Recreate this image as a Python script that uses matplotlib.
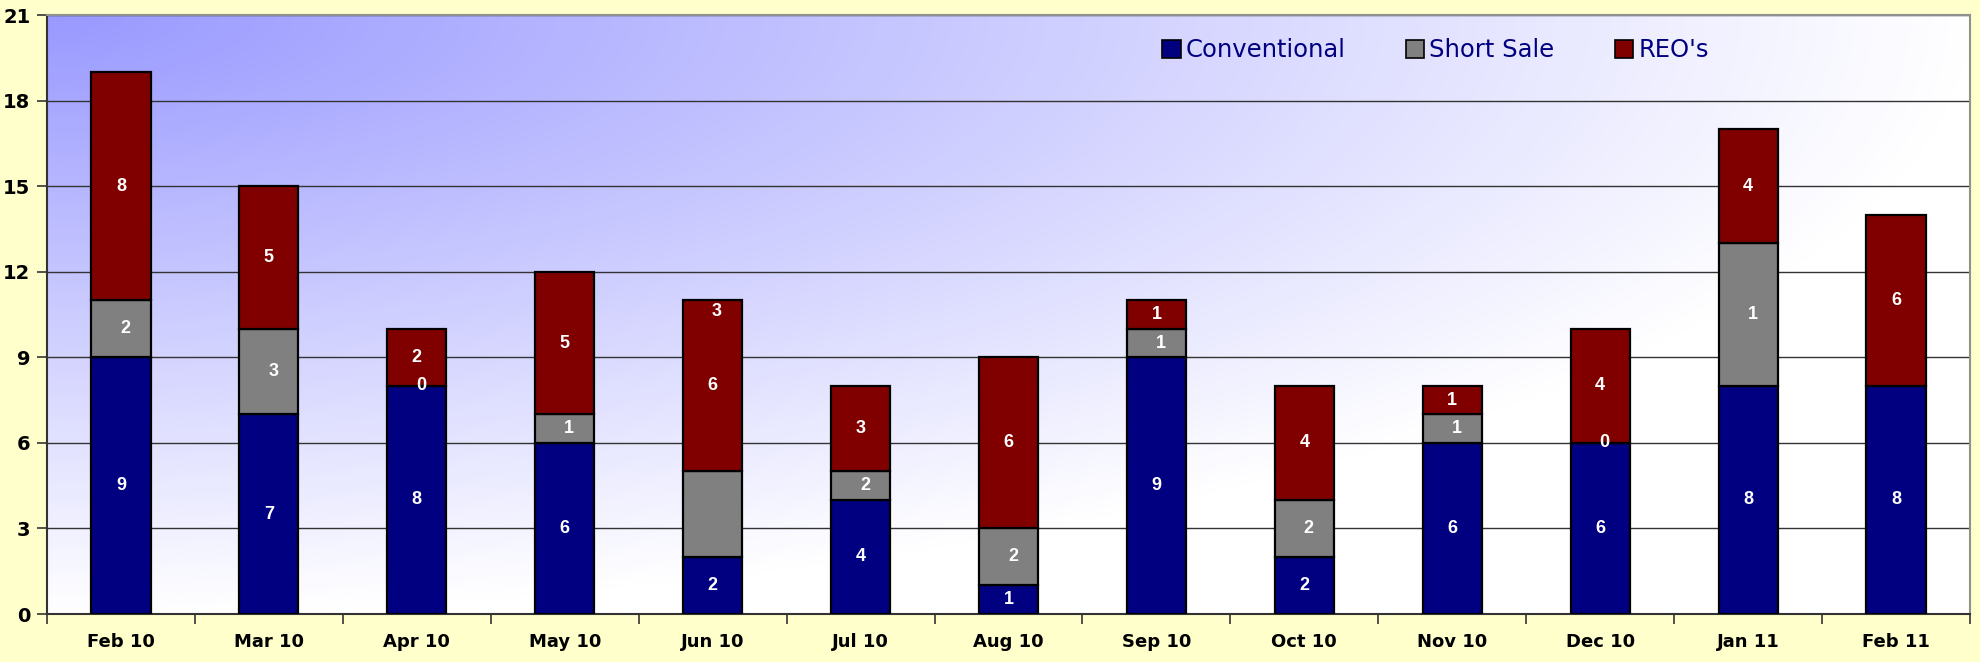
import numpy as np
import matplotlib.pyplot as plt
from matplotlib.patches import Patch

# -------------------------------------------------------------------------
# Data
# -------------------------------------------------------------------------
months = ["Feb 10", "Mar 10", "Apr 10", "May 10", "Jun 10", "Jul 10", "Aug 10",
          "Sep 10", "Oct 10", "Nov 10", "Dec 10", "Jan 11", "Feb 11"]

conventional = [9, 7, 8, 6, 2, 4, 1, 9, 2, 6, 6, 8, 8]
short_sale = [2, 3, 0, 1, 3, 1, 2, 1, 2, 1, 0, 5, 0]
reos = [8, 5, 2, 5, 6, 3, 6, 1, 4, 1, 4, 4, 6]

# the data labels printed on the bars (they do not always match the heights)
conventional_labels = ["9", "7", "8", "6", "2", "4", "1", "9", "2", "6", "6", "8", "8"]
short_sale_labels = ["2", "3", "0", "1", "3", "2", "2", "1", "2", "1", "0", "1", ""]
reos_labels = ["8", "5", "2", "5", "6", "3", "6", "1", "4", "1", "4", "4", "6"]

# one label sits away from its segment (Jun 10 short sale)
label_y_override = {("short", 4): 10.6}

NAVY = "#000080"
GREY = "#808080"
MAROON = "#800000"

fig = plt.figure(figsize=(19.8, 6.62), dpi=100)
fig.patch.set_facecolor("#FFFFCC")
ax = fig.add_axes([47 / 1980, 1 - 614 / 662, (1970 - 47) / 1980, (614 - 15) / 662])

# corner gradient background: blue-violet top-left -> white away from it
nx, ny = 400, 200
xx, yy = np.meshgrid(np.linspace(0, 1, nx), np.linspace(0, 1, ny))
t = np.clip(np.sqrt(xx ** 2 + yy ** 2), 0, 1)
c0 = np.array([0.60, 0.60, 1.0])
c1 = np.array([1.0, 1.0, 1.0])
grad = c0[None, None, :] * (1 - t[..., None]) + c1[None, None, :] * t[..., None]
ax.imshow(grad, extent=[0, 1, 0, 1], transform=ax.transAxes, aspect="auto",
          zorder=0, interpolation="bilinear")

x = np.arange(len(months))
width = 0.40
conv = np.array(conventional, dtype=float)
short = np.array(short_sale, dtype=float)
reo = np.array(reos, dtype=float)

ax.bar(x, conv, width, color=NAVY, edgecolor="black", linewidth=1.6, zorder=3)
ax.bar(x, short, width, bottom=conv, color=GREY, edgecolor="black", linewidth=1.6, zorder=3)
ax.bar(x, reo, width, bottom=conv + short, color=MAROON, edgecolor="black", linewidth=1.6, zorder=3)

label_kw = dict(color="white", fontsize=13, fontweight="bold", ha="center", va="center",
                family="Liberation Sans", zorder=5)
for i in x:
    ax.text(i, conv[i] / 2, conventional_labels[i], **label_kw)
    if short_sale_labels[i]:
        y = label_y_override.get(("short", i), conv[i] + short[i] / 2)
        ax.text(i + 0.03, y, short_sale_labels[i], **label_kw)
    ax.text(i, conv[i] + short[i] + reo[i] / 2, reos_labels[i], **label_kw)

ax.set_xlim(-0.5, len(months) - 0.5)
ax.set_ylim(0, 21)
ax.set_yticks(np.arange(0, 22, 3))
ax.yaxis.grid(True, color="#333333", linewidth=1.0, zorder=1)
ax.set_axisbelow(True)

ax.set_xticks(x)
ax.set_xticklabels(months)
ax.set_xticks(np.arange(-0.5, len(months), 1), minor=True)
ax.tick_params(axis="x", which="major", length=0, pad=14, labelsize=13)
ax.tick_params(axis="x", which="minor", length=7, width=1.2, color="#333333", direction="out")
ax.tick_params(axis="y", length=7, width=1.2, color="#333333", labelsize=14, pad=5)
for lbl in ax.get_yticklabels():
    lbl.set_fontweight("bold")
for lbl in ax.get_xticklabels():
    lbl.set_fontweight("bold")

for side in ["left", "bottom"]:
    ax.spines[side].set_color("#333333")
    ax.spines[side].set_linewidth(1.5)
for side in ["top", "right"]:
    ax.spines[side].set_color("#909090")
    ax.spines[side].set_linewidth(1.5)

handles = [Patch(facecolor=NAVY, edgecolor="black", linewidth=1.2, label="Conventional"),
           Patch(facecolor=GREY, edgecolor="black", linewidth=1.2, label="Short Sale"),
           Patch(facecolor=MAROON, edgecolor="black", linewidth=1.2, label="REO's")]
leg = ax.legend(handles=handles, loc="center left", bbox_to_anchor=(0.580, 0.941), ncol=3,
                frameon=False, fontsize=17.5, handlelength=0.75, handleheight=0.75,
                handletextpad=0.2, columnspacing=2.5, borderpad=0, borderaxespad=0)
for txt in leg.get_texts():
    txt.set_color(NAVY)

fig.savefig("out.png", dpi=100, facecolor=fig.get_facecolor())
